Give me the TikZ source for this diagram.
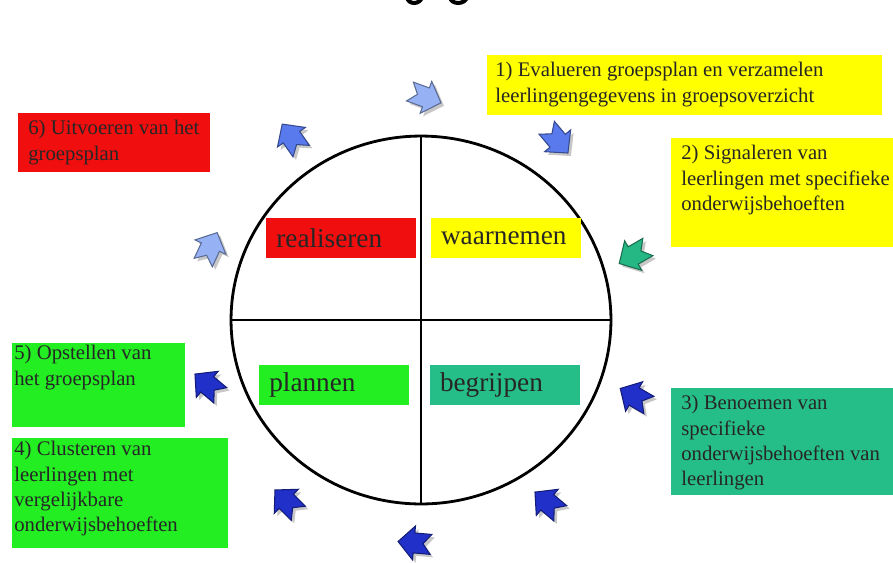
\documentclass[tikz,border=0pt]{standalone}
\usepackage{fontspec}
\setmainfont{Liberation Serif}
\usetikzlibrary{positioning, shapes.geometric}
\definecolor{rood}{RGB}{240,14,14}
\definecolor{geel}{RGB}{255,255,0}
\definecolor{groen}{RGB}{34,238,34}
\definecolor{turkoois}{RGB}{38,190,136}
\definecolor{lichtblauw}{RGB}{150,178,245}
\definecolor{middenblauw}{RGB}{88,122,236}
\definecolor{donkerblauw}{RGB}{32,48,200}
\definecolor{pijlgroen}{RGB}{38,184,132}
\tikzset{
vak/.style={fill=#1, anchor=north west, inner sep=0pt}, % coloured box behind a step
staptekst/.style={anchor=north west, align=left, inner xsep=0.16cm, inner ysep=0.14cm, font=\fontsize{11.8}{14.4}\selectfont, text=black!85}, % text of a step
kwadrant/.style={fill=#1, anchor=west, minimum height=0.8cm, inner xsep=0.2cm, inner ysep=0pt, text width=2.6cm, align=left, font=\fontsize{15.5}{18}\selectfont, text=black!85}, % label inside the circle
pics/blokpijl/.style 2 args={code={ % notched block arrow with shadow, #1 = angle
  \path[fill=black!22, shift={(3,3)}, rotate=#1] (17,0) -- (1,17) -- (1,10) -- (-16,10) -- (-8,0) -- (-16,-10) -- (1,-10) -- (1,-17) -- cycle;
  \path[fill=#2, draw=#2!60!black, line width=0.6pt, rotate=#1] (17,0) -- (1,17) -- (1,10) -- (-16,10) -- (-8,0) -- (-16,-10) -- (1,-10) -- (1,-17) -- cycle;
}},
}

\begin{document}
\begin{tikzpicture}[x=0.02cm, y=-0.02cm] % 1 unit = 1 pixel, y goes down
        \useasboundingbox (0,0) rectangle (893,562);
        % bottom of the cut-off title
        \draw[line width=0.08cm] (407,-3) .. controls (408,5) and (420,5) .. (422,-3);
        \draw[line width=0.08cm] (450,-3) .. controls (451,5) and (465,5) .. (467,-3);
        % circle with the four quarters
        \node[draw, ellipse, line width=1.6pt, inner sep=0pt, outer sep=0pt, minimum width=7.6cm, minimum height=7.36cm] (cirkel) at (421,320) {};
        \draw[line width=1.6pt] (cirkel.west) -- (cirkel.east);
        \draw[line width=1.6pt] (cirkel.north) -- (cirkel.south);
        \node[kwadrant=rood] (realiseren) at (266,238) {realiseren};
        \node[kwadrant=geel, right=0.28cm of realiseren] (waarnemen) {waarnemen};
        \node[kwadrant=groen] (plannen) at (259,385) {plannen};
        \node[kwadrant=turkoois, right=0.4cm of plannen] (begrijpen) {begrijpen};
        % the six steps
        \node[vak=geel, minimum width=7.9cm, minimum height=1.2cm] (vak1) at (487,55) {};
        \node[staptekst] (stap1) at (vak1.north west) {1) Evalueren groepsplan en verzamelen\\leerlingengegevens in groepsoverzicht};
        \node[vak=geel, minimum width=4.44cm, minimum height=2.18cm] (vak2) at (671,138) {};
        \node[staptekst, inner xsep=0.2cm] (stap2) at (vak2.north west) {2) Signaleren van\\leerlingen met specifieke\\onderwijsbehoeften};
        \node[vak=turkoois, minimum width=4.44cm, minimum height=2.14cm] (vak3) at (671,388) {};
        \node[staptekst, inner xsep=0.2cm] (stap3) at (vak3.north west) {3) Benoemen van\\specifieke\\onderwijsbehoeften van\\leerlingen};
        \node[vak=groen, minimum width=4.32cm, minimum height=2.2cm] (vak4) at (12,438) {};
        \node[staptekst, inner xsep=0.04cm, inner ysep=0.06cm] (stap4) at (vak4.north west) {4) Clusteren van\\leerlingen met\\vergelijkbare\\onderwijsbehoeften};
        \node[vak=groen, minimum width=3.46cm, minimum height=1.68cm] (vak5) at (12,343) {};
        \node[staptekst, inner xsep=0.04cm, inner ysep=0.04cm] (stap5) at (vak5.north west) {5) Opstellen van\\het groepsplan};
        \node[vak=rood, minimum width=3.84cm, minimum height=1.18cm] (vak6) at (18,113) {};
        \node[staptekst, inner xsep=0.2cm] (stap6) at (vak6.north west) {6) Uitvoeren van het\\groepsplan};
        % arrows round the circle
        \pic at (425,97) {blokpijl={-20}{lichtblauw}};
        \pic at (557,140) {blokpijl={-50}{middenblauw}};
        \pic at (634,255) {blokpijl={-150}{pijlgroen}};
        \pic at (635,397) {blokpijl={150}{donkerblauw}};
        \pic at (548,503) {blokpijl={140}{donkerblauw}};
        \pic at (415,543) {blokpijl={175}{donkerblauw}};
        \pic at (287,502) {blokpijl={135}{donkerblauw}};
        \pic at (208,385) {blokpijl={140}{donkerblauw}};
        \pic at (210,248) {blokpijl={65}{lichtblauw}};
        \pic at (292,138) {blokpijl={125}{middenblauw}};
\end{tikzpicture}
\end{document}
